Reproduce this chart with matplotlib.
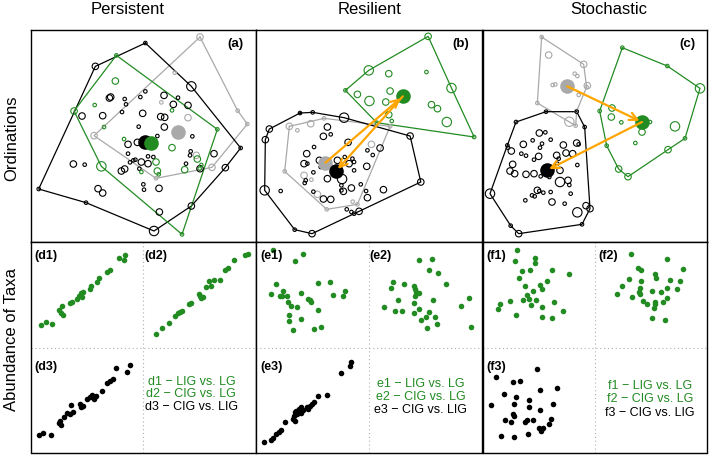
import matplotlib
matplotlib.use("Agg")
import matplotlib.pyplot as plt
import numpy as np

plt.rcParams['font.family'] = ['Liberation Sans', 'DejaVu Sans']

W, H = 709, 456
GREEN = '#228B22'
GRAY = '#A9A9A9'
BLACK = '#000000'
ORANGE = '#FFA500'

# ---------------- Ordination data (site scores, arbitrary units, y downward) --------------
# each point: (x, y, abundance class 1-3)
# Panel (a) Persistent
a_black_hull = [(352,48,1),(490,178,3),(638,363,1),(592,422,2),(490,537,2),(378,612,3),(174,527,1),(32,486,1),(202,118,2)]
a_gray_hull = [(516,30,2),(629,251,1),(658,291,1),(552,421,2),(384,454,1),(198,326,2)]
a_green_hull = [(265,85,1),(568,307,1),(462,622,1),(220,418,3),(138,252,2)]
a_black_pts = [(248,210,2),(244,213,2),(290,216,1),(294,232,1),(337,210,1),(352,193,1),(408,205,2),(450,212,1),
               (436,232,2),(480,235,2),(282,255,1),(344,259,2),(398,269,2),(410,271,2),(332,299,1),(409,300,2),
               (224,266,2),(162,267,2),(300,352,2),(328,346,2),(364,360,1),(388,327,1),(493,328,1),(488,373,1),
               (486,385,1),(558,380,2),(300,380,1),(316,400,1),(340,405,2),(360,410,2),(376,390,1),(334,425,1),
               (280,432,2),(290,426,2),(136,411,2),(170,413,1),(210,485,2),(224,498,2),(346,472,1),(348,488,1),
               (393,484,2),(394,555,2),(474,410,1),(516,425,2),(306,406,1),(322,398,1),(360,388,1)]
a_gray_pts = [(440,137,1),(400,226,1),(480,272,2),(505,385,2)]
a_green_pts = [(262,162,2),(200,234,1),(228,300,1),(288,336,1),(432,250,1),(432,362,2),(384,405,2),(340,435,1),
               (388,432,2),(392,442,1),(470,428,2),(508,396,2),(520,414,1),(515,425,1)]
a_centroids = {'black': (352,346), 'green': (368,347), 'gray': (450,316)}

# Panel (b) Resilient
b_black_hull = [(138,258,1),(176,256,1),(270,272,3),(468,327,2),(500,465,2),(315,553,2),(174,620,2),(122,608,1),
                (32,490,3),(34,338,2),(46,306,2)]
b_gray_hull = [(106,298,2),(210,274,1),(408,298,1),(310,532,1),(218,547,1),(92,433,1)]
b_green_hull = [(274,190,1),(344,130,3),(522,28,2),(592,183,3),(660,330,1),(368,287,1)]
b_black_pts = [(220,300,2),(208,328,2),(230,322,1),(282,346,2),(180,360,1),(158,380,2),(150,410,2),(160,410,1),
               (178,436,1),(200,420,1),(220,455,2),(196,400,2),(250,400,2),(272,390,1),(295,395,1),(300,405,1),
               (300,430,1),(340,370,1),(356,384,1),(338,418,2),(378,363,2),(155,460,1),(152,468,1),(178,494,1),
               (208,516,2),(230,517,2),(262,490,1),(268,493,2),(292,483,2),(320,472,1),(336,492,1),(340,512,2),
               (388,488,2),(80,492,1),(264,456,3),(278,547,1),(292,555,1),(300,560,1),(262,475,1),(285,410,2)]
b_gray_pts = [(130,310,1),(170,290,2),(352,352,2),(150,445,2),(190,502,2),(172,458,1),(296,524,1)]
b_green_pts = [(404,140,2),(517,135,1),(310,202,2),(346,222,3),(395,225,2),(408,192,2),(532,233,2),(550,245,2),
               (578,285,3),(404,263,2),(413,282,1)]
b_centroids = {'black': (246,432), 'green': (446,208), 'gray': (214,407)}

# Panel (c) Stochastic
c_black_hull = [(198,254,1),(290,254,1),(314,300,1),(330,545,2),(306,592,1),(116,620,2),(92,596,1),(30,500,3),
                (82,355,1),(108,285,1)]
c_gray_hull = [(185,30,1),(311,112,2),(320,180,1),(290,252,1),(287,296,1),(172,228,1)]
c_green_hull = [(427,62,1),(562,117,1),(660,184,3),(615,334,1),(564,368,2),(444,449,2),(416,426,2),(380,356,1),(359,252,1)]
c_black_pts = [(178,318,2),(196,316,1),(130,352,2),(158,340,1),(186,350,1),(180,362,1),(212,338,1),(250,354,2),
               (290,348,2),(296,352,1),(258,378,2),(278,380,2),(84,362,1),(94,372,2),(124,380,1),(138,386,1),
               (176,388,2),(162,398,1),(98,412,2),(90,432,2),(230,385,2),(236,395,1),(232,410,1),(292,414,1),
               (240,430,2),(104,440,2),(138,442,2),(162,440,2),(182,448,1),(208,450,1),(240,465,3),(264,460,2),
               (268,474,1),(172,490,2),(178,492,1),(156,505,1),(164,508,1),(190,497,1),(212,495,1),(136,520,1),
               (216,525,2),(254,530,1),(272,500,1),(292,556,3),(318,536,2)]
c_gray_pts = [(206,84,2),(292,147,1),(218,174,1),(226,172,1),(322,176,2),(296,204,1),(268,284,3),(284,140,1)]
c_green_pts = [(396,243,2),(394,270,2),(424,286,1),(486,315,2),(510,285,1),(585,298,3),(466,348,1)]
c_centroids = {'black': (200,430), 'green': (486,285), 'gray': (262,178)}

# ---------------- Abundance comparisons (x, y downward) ----------------
d1 = [(38,257),(55,250),(72,256),(93,212),(102,200),(98,222),(105,228),(127,192),(133,188),(148,180),(152,170),
      (158,162),(165,160),(162,175),(185,150),(190,142),(208,128),(212,118),(238,100),(245,92),(272,56),(290,48),(288,63)]
d2 = [(384,286),(402,268),(422,252),(442,232),(450,222),(455,218),(462,215),(482,196),(490,192),(512,165),(515,170),
      (520,178),(525,175),(535,145),(548,140),(542,127),(558,122),(575,122),(592,92),(600,88),(617,64),(652,48),(660,44)]
d3 = [(33,588),(46,582),(68,588),(95,545),(92,552),(100,558),(108,535),(118,522),(125,525),(135,520),(130,497),
      (157,495),(160,505),(165,500),(177,480),(185,473),(192,468),(198,480),(205,470),(222,455),(237,432),(245,425),
      (256,420),(265,387),(298,398),(307,378)]
e1 = [(56,32),(148,44),(122,67),(66,135),(52,165),(78,170),(86,157),(100,172),(84,172),(102,190),(110,200),(130,205),
      (140,163),(162,180),(168,183),(172,190),(193,132),(228,130),(238,168),(268,172),(272,155),(192,214),(104,228),
      (106,245),(140,240),(118,274),(180,270),(200,263)]
e2 = [(494,64),(534,60),(524,92),(552,102),(576,135),(416,128),(412,148),(450,135),(480,140),(484,150),(486,160),
      (494,162),(482,170),(432,183),(480,193),(536,184),(390,205),(424,216),(444,216),(480,222),(496,210),(524,218),
      (542,235),(500,242),(516,234),(550,254),(518,266),(620,202),(646,178),(652,263)]
e3 = [(30,610),(52,603),(56,598),(66,584),(74,579),(80,574),(92,550),(118,540),(120,532),(124,520),(126,515),(130,525),
      (140,522),(136,510),(140,505),(146,512),(160,503),(162,510),(168,500),(175,495),(180,490),(192,470),(218,468),
      (262,403),(288,380),(292,368),(122,545)]
f1 = [(110,32),(106,67),(165,57),(164,72),(126,96),(150,93),(216,92),(266,106),(116,118),(200,125),(136,140),(180,137),
      (186,150),(160,155),(140,168),(148,180),(168,183),(152,198),(128,183),(90,185),(60,196),(55,210),(108,228),
      (186,205),(222,190),(250,217),(186,235),(216,236)]
f2 = [(452,44),(562,59),(474,86),(484,92),(610,90),(526,106),(528,117),(446,120),(482,126),(570,122),(600,125),
      (426,140),(480,146),(560,147),(592,150),(516,155),(476,160),(542,158),(412,166),(480,166),(456,175),(488,186),
      (500,195),(526,190),(550,190),(562,176),(522,208),(524,196),(516,238),(556,242)]
f3 = [(48,414),(170,390),(98,430),(120,426),(72,465),(108,475),(148,482),(180,454),(232,448),(32,497),(102,495),
      (148,505),(220,495),(98,525),(102,530),(180,512),(76,542),(94,548),(136,548),(142,543),(160,544),(214,540),
      (208,556),(190,566),(176,566),(182,575),(64,592),(102,593),(144,585)]

col_titles = ['Persistent', 'Resilient', 'Stochastic']
row_titles = ['Ordinations', 'Abundance of Taxa']
panel_tags = ['(a)', '(b)', '(c)']
legend_lines = [['d1 \u2212 LIG vs. LG', 'd2 \u2212 CIG vs. LG', 'd3 \u2212 CIG vs. LIG'],
                ['e1 \u2212 LIG vs. LG', 'e2 \u2212 CIG vs. LG', 'e3 \u2212 CIG vs. LIG'],
                ['f1 \u2212 LIG vs. LG', 'f2 \u2212 CIG vs. LG', 'f3 \u2212 CIG vs. LIG']]
sub_tags = [['(d1)', '(d2)', '(d3)'], ['(e1)', '(e2)', '(e3)'], ['(f1)', '(f2)', '(f3)']]

# ---------------- Figure ----------------
fig = plt.figure(figsize=(W/100, H/100), dpi=100)

def box(x0, y0, x1, y1):
    return [x0/W, 1 - y1/H, (x1-x0)/W, (y1-y0)/H]

col_x = [(30.7, 256), (256, 482.5), (482.5, 707)]
top_y = (30.7, 243)
bot_y = (243, 453.5)
xlims_top = [(8, 684), (6, 685), (7.5, 681)]
SIZE_S = {1: 6.5, 2: 22, 3: 46}

def draw_group(ax, hull, pts, color):
    hx = [p[0] for p in hull] + [hull[0][0]]
    hy = [p[1] for p in hull] + [hull[0][1]]
    ax.plot(hx, hy, color=color, lw=0.9, zorder=2)
    allp = hull + pts
    ax.scatter([p[0] for p in allp], [p[1] for p in allp], s=[SIZE_S[p[2]] for p in allp],
               facecolors='none', edgecolors=color, linewidths=0.8, zorder=3)

panels = [
    (a_black_hull, a_gray_hull, a_green_hull, a_black_pts, a_gray_pts, a_green_pts, a_centroids, False),
    (b_black_hull, b_gray_hull, b_green_hull, b_black_pts, b_gray_pts, b_green_pts, b_centroids, True),
    (c_black_hull, c_gray_hull, c_green_hull, c_black_pts, c_gray_pts, c_green_pts, c_centroids, True),
]
colmap = {'gray': GRAY, 'black': BLACK, 'green': GREEN}

for i, (bh, gh, grh, bp, gp, grp, cen, arrows) in enumerate(panels):
    ax = fig.add_axes(box(col_x[i][0], top_y[0], col_x[i][1], top_y[1]))
    ax.set_xlim(*xlims_top[i])
    ax.set_ylim(645, 8)
    ax.set_xticks([]); ax.set_yticks([])
    for s in ax.spines.values():
        s.set_linewidth(1.0)
    draw_group(ax, gh, gp, GRAY)
    draw_group(ax, bh, bp, BLACK)
    draw_group(ax, grh, grp, GREEN)
    for k in ['gray', 'black', 'green']:
        ax.scatter([cen[k][0]], [cen[k][1]], s=110, color=colmap[k], zorder=5, linewidths=0)
    if arrows:
        ax.annotate('', xy=cen['green'], xytext=cen['gray'],
                    arrowprops=dict(arrowstyle='->', color=ORANGE, lw=1.6, mutation_scale=14,
                                    shrinkA=0, shrinkB=2), zorder=6)
        ax.annotate('', xy=cen['black'], xytext=cen['green'],
                    arrowprops=dict(arrowstyle='->', color=ORANGE, lw=1.6, mutation_scale=14,
                                    shrinkA=0, shrinkB=2), zorder=6)
    ax.text(645, 48, panel_tags[i], ha='right', va='center', fontsize=9.5, fontweight='bold')

bottom_data = [(d1, d2, d3), (e1, e2, e3), (f1, f2, f3)]
legend_pos = [(490, [425, 463, 500]), (500, [432, 470, 510]), (510, [437, 477, 520])]
tag_pos = [[(20, 48), (348, 48), (20, 380)], [(20, 48), (346, 48), (20, 380)], [(20, 48), (354, 48), (20, 382)]]

for i in range(3):
    ax = fig.add_axes(box(col_x[i][0], bot_y[0], col_x[i][1], bot_y[1]))
    ax.set_xlim(*xlims_top[i])
    ax.set_ylim(640, 9)
    ax.set_xticks([]); ax.set_yticks([])
    for s in ax.spines.values():
        s.set_linewidth(1.0)
    ax.axvline(345, color='#B0B0B0', lw=0.8, ls=(0, (1, 2.5)))
    ax.axhline(327, color='#B0B0B0', lw=0.8, ls=(0, (1, 2.5)))
    for j, (dat, c) in enumerate(zip(bottom_data[i], [GREEN, GREEN, BLACK])):
        ax.scatter([p[0] for p in dat], [p[1] for p in dat], s=16, color=c, linewidths=0, zorder=3)
        ax.text(tag_pos[i][j][0], tag_pos[i][j][1], sub_tags[i][j], ha='left', va='center',
                fontsize=9, fontweight='bold')
    lx, lys = legend_pos[i]
    for j, (txt, c) in enumerate(zip(legend_lines[i], [GREEN, GREEN, BLACK])):
        ax.text(lx, lys[j], txt, ha='center', va='center', fontsize=9, color=c)

# column and row titles
title_x = [128, 370, 609]
for t, x in zip(col_titles, title_x):
    fig.text(x/W, 1 - 9/H, t, ha='center', va='center', fontsize=12)
fig.text(12/W, 1 - 138/H, row_titles[0], rotation=90, ha='center', va='center', fontsize=12)
fig.text(12/W, 1 - 340/H, row_titles[1], rotation=90, ha='center', va='center', fontsize=12)

fig.savefig('out.png', dpi=100)
